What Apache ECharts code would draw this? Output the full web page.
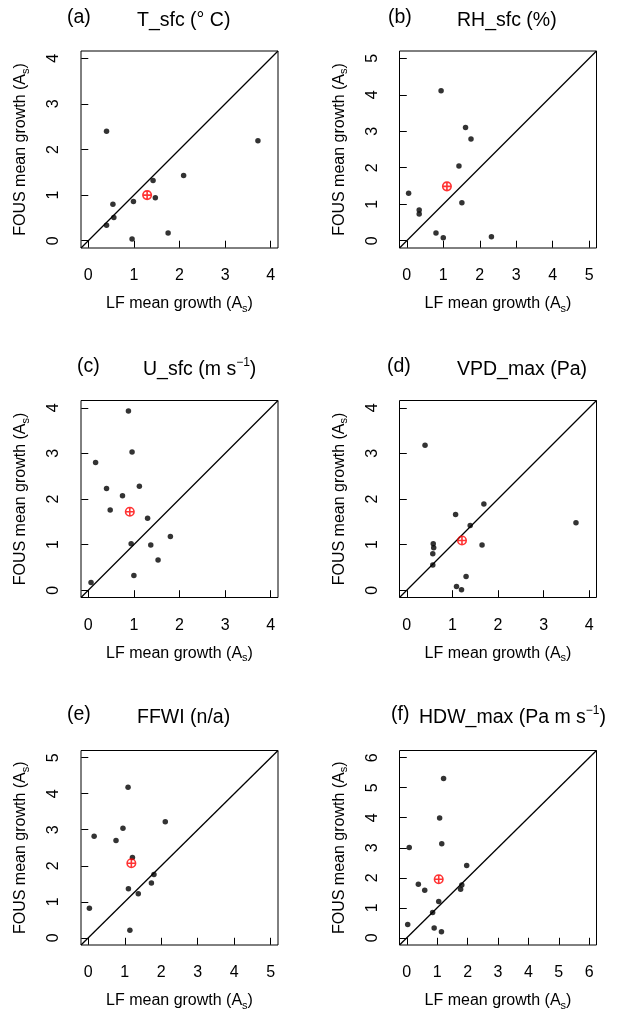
<!DOCTYPE html>
<html>
<head>
<meta charset="utf-8">
<script src="https://cdn.jsdelivr.net/npm/echarts@6/dist/echarts.min.js"></script>
<style>
  html, body { margin: 0; padding: 0; background: #fff; }
  #chart { width: 622px; height: 1012px; }
</style>
</head>
<body>
<div id="chart"></div>
<script>
// LF vs FOUS mean growth for each near-surface variable (one dot per case,
// the red crossed circle is the all-case mean).
const tSfcLF     = [0.40, 3.72, 2.09, 1.42, 1.47, 0.99, 0.54, 0.56, 0.40, 0.96, 1.75];
const tSfcFOUS   = [2.40, 2.19, 1.43, 1.32, 0.94, 0.86, 0.80, 0.51, 0.34, 0.04, 0.17];
const tSfcMean   = [1.29, 1.00];

const rhSfcLF    = [0.94, 1.61, 1.76, 1.43, 1.51, 0.05, 0.34, 0.34, 0.80, 1.00, 2.32];
const rhSfcFOUS  = [4.11, 3.10, 2.79, 2.05, 1.04, 1.30, 0.84, 0.73, 0.21, 0.08, 0.11];
const rhSfcMean  = [1.10, 1.49];

const uSfcLF     = [0.88, 0.96, 0.16, 1.12, 0.40, 0.75, 0.48, 1.30, 1.80, 0.94, 1.37, 1.53, 1.00, 0.06];
const uSfcFOUS   = [3.93, 3.03, 2.80, 2.28, 2.23, 2.07, 1.76, 1.58, 1.18, 1.02, 0.99, 0.66, 0.32, 0.17];
const uSfcMean   = [0.91, 1.72];

const vpdMaxLF   = [0.40, 1.69, 1.07, 1.39, 3.71, 1.65, 0.58, 0.59, 0.57, 0.57, 1.30, 1.09, 1.20];
const vpdMaxFOUS = [3.18, 1.89, 1.66, 1.42, 1.48, 0.99, 1.02, 0.93, 0.80, 0.55, 0.30, 0.08, 0.01];
const vpdMaxMean = [1.21, 1.09];

const ffwiLF     = [1.09, 2.11, 0.95, 0.16, 0.76, 1.21, 1.80, 1.73, 1.10, 1.37, 0.03, 1.14];
const ffwiFOUS   = [4.18, 3.22, 3.04, 2.82, 2.70, 2.23, 1.76, 1.52, 1.36, 1.22, 0.82, 0.21];
const ffwiMean   = [1.18, 2.07];

const hdwMaxLF   = [1.21, 1.08, 1.15, 0.08, 1.97, 0.38, 1.81, 1.77, 0.59, 1.05, 0.85, 0.03, 0.90, 1.14];
const hdwMaxFOUS = [5.31, 3.99, 3.13, 3.01, 2.41, 1.78, 1.76, 1.62, 1.58, 1.21, 0.84, 0.44, 0.33, 0.20];
const hdwMaxMean = [1.05, 1.95];

// Upper axis limit of each panel (both axes share it)
const axisTop = [4, 5, 4, 4, 5, 6];

const panels = [
  { tag: '(a)', title: 'T_sfc (° C)',                 lf: tSfcLF,   fous: tSfcFOUS,   mean: tSfcMean },
  { tag: '(b)', title: 'RH_sfc (%)',                  lf: rhSfcLF,  fous: rhSfcFOUS,  mean: rhSfcMean },
  { tag: '(c)', title: 'U_sfc (m s{sup|−1})',         lf: uSfcLF,   fous: uSfcFOUS,   mean: uSfcMean },
  { tag: '(d)', title: 'VPD_max (Pa)',                lf: vpdMaxLF, fous: vpdMaxFOUS, mean: vpdMaxMean },
  { tag: '(e)', title: 'FFWI (n/a)',                  lf: ffwiLF,   fous: ffwiFOUS,   mean: ffwiMean },
  { tag: '(f)', title: 'HDW_max (Pa m s{sup|−1})',    lf: hdwMaxLF, fous: hdwMaxFOUS, mean: hdwMaxMean }
];

// Page layout
const FONT = '"Liberation Sans", Arial, Helvetica, sans-serif';
const colLeft = [81, 399.5];
const rowTop = [51, 400.5, 750.5];
const boxSize = 197;
const titleY = [8, 357, 705];
const tagX = [[67, 388], [77, 387], [67, 391]];
const nameX = [[137, 457], [143, 457], [137, 419]];

const grids = [], xAxes = [], yAxes = [], series = [], titles = [];

const crossedCircle = 'path://M0,10A10,10,0,1,1,20,10A10,10,0,1,1,0,10ZM10,0L10,20M0,10L20,10';

panels.forEach((p, i) => {
  const col = i % 2, row = Math.floor(i / 2);
  const top = axisTop[i];
  const lo = -0.04 * top, hi = 1.04 * top;
  const ticks = [];
  for (let v = 0; v <= top; v++) ticks.push(v);

  grids.push({
    left: colLeft[col], top: rowTop[row], width: boxSize, height: boxSize,
    show: true, borderColor: '#000', borderWidth: 1, backgroundColor: 'transparent'
  });

  const subRich = {
    s: { fontSize: 11, fontFamily: FONT, color: '#000', verticalAlign: 'bottom', lineHeight: 11 }
  };

  xAxes.push({
    type: 'value', gridIndex: i, min: lo, max: hi,
    axisLine: { show: false }, splitLine: { show: false },
    axisTick: { show: true, inside: false, length: 7, customValues: ticks, lineStyle: { color: '#000', width: 1 } },
    axisLabel: { customValues: ticks, margin: 20, fontSize: 16, fontFamily: FONT, color: '#000' },
    name: 'LF mean growth (A{s|s})', nameLocation: 'middle', nameGap: 46,
    nameTextStyle: { fontSize: 16, fontFamily: FONT, color: '#000', lineHeight: 20, rich: subRich }
  });

  yAxes.push({
    type: 'value', gridIndex: i, min: lo, max: hi,
    axisLine: { show: false }, splitLine: { show: false },
    axisTick: { show: true, inside: false, length: 7, customValues: ticks, lineStyle: { color: '#000', width: 1 } },
    axisLabel: { customValues: ticks, rotate: 90, margin: 19, fontSize: 16, fontFamily: FONT, color: '#000' },
    name: 'FOUS mean growth (A{s|s})', nameLocation: 'middle', nameGap: 50,
    nameTextStyle: { fontSize: 16, fontFamily: FONT, color: '#000', lineHeight: 20, rich: subRich }
  });

  // 1:1 reference line spanning the plot box
  series.push({
    type: 'line', xAxisIndex: i, yAxisIndex: i, silent: true, symbol: 'none', z: 1,
    data: [[lo, lo], [hi, hi]],
    lineStyle: { color: '#000', width: 1.3 }
  });

  series.push({
    type: 'scatter', xAxisIndex: i, yAxisIndex: i, silent: true, z: 3,
    symbol: 'circle', symbolSize: 5.5,
    itemStyle: { color: '#000' },
    data: p.lf.map((x, k) => [x, p.fous[k]])
  });

  series.push({
    type: 'scatter', xAxisIndex: i, yAxisIndex: i, silent: true, z: 4,
    symbol: crossedCircle, symbolSize: 8.5,
    itemStyle: { color: 'rgba(255,255,255,0)', borderColor: '#ff0000', borderWidth: 1.6 },
    data: [p.mean]
  });

  titles.push({
    text: p.tag, left: tagX[row][col], top: titleY[row], padding: 0,
    textStyle: { fontSize: 19.5, fontWeight: 'normal', fontFamily: FONT, color: '#000' }
  });
  titles.push({
    text: p.title, left: nameX[row][col], top: titleY[row], padding: 0,
    textStyle: {
      fontSize: 19.5, fontWeight: 'normal', fontFamily: FONT, color: '#000', lineHeight: 26,
      rich: { sup: { fontSize: 12, fontFamily: FONT, color: '#000', verticalAlign: 'top', lineHeight: 12 } }
    }
  });
});

const chart = echarts.init(document.getElementById('chart'), null, { renderer: 'canvas' });
chart.setOption({
  animation: false,
  backgroundColor: '#fff',
  title: titles,
  grid: grids,
  xAxis: xAxes,
  yAxis: yAxes,
  series: series
});
</script>
</body>
</html>
